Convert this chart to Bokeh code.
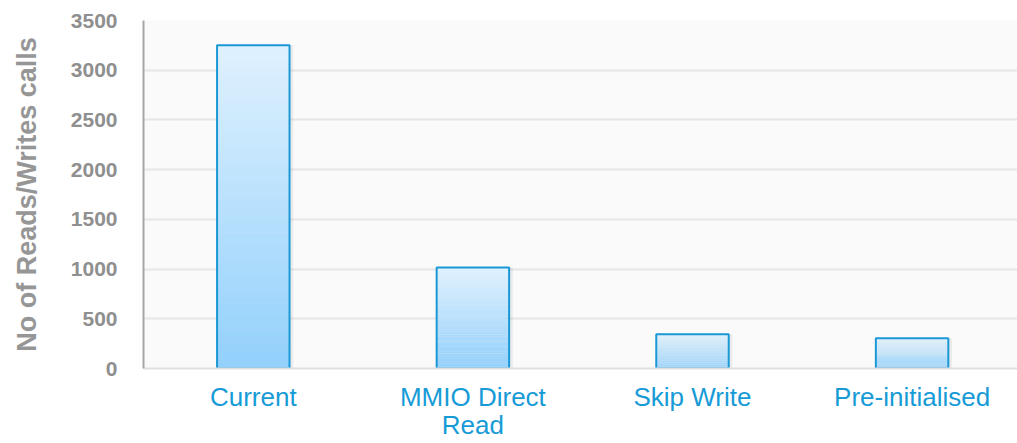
from bokeh.plotting import figure
from bokeh.models import Range1d, FixedTicker
from bokeh.embed import file_html
from bokeh.resources import INLINE

categories = ["Current", "MMIO Direct\nRead", "Skip Write", "Pre-initialised"]
values = [3250, 1015, 345, 305]
y_ticks = [0, 500, 1000, 1500, 2000, 2500, 3000, 3500]
y_title = "No of Reads/Writes calls"

FONT = "Liberation Sans"
xs = [i + 0.5 for i in range(len(categories))]
BAR_W = 0.33

p = figure(width=1017, height=443, x_range=Range1d(0, 3.98), y_range=Range1d(0, 3500),
           output_backend="svg", toolbar_location=None,
           min_border_left=143, min_border_right=0, min_border_top=20, min_border_bottom=75)
p.outline_line_color = None
p.background_fill_color = "#fafafa"
p.border_fill_color = "white"

# shadow
p.vbar(x=[x + 0.012 for x in xs], top=values, width=BAR_W + 0.01, bottom=0,
       fill_color="black", fill_alpha=0.06, line_color=None)

# gradient fill built as slices of each bar
N = 60
top_c = (0xdf, 0xf1, 0xfe)
bot_c = (0x92, 0xd0, 0xfb)
sx, sb, st, sc = [], [], [], []
for x, v in zip(xs, values):
    for k in range(N):
        t = (k + 0.5) / N
        c = tuple(int(round(bot_c[j] + (top_c[j] - bot_c[j]) * t)) for j in range(3))
        sx.append(x)
        sb.append(v * k / N)
        st.append(v * (k + 1) / N + v * 0.002)
        sc.append("#%02x%02x%02x" % c)
p.vbar(x=sx, bottom=sb, top=st, width=BAR_W, fill_color=sc, line_color=None)
p.vbar(x=xs, top=values, bottom=0, width=BAR_W, fill_color=None,
       line_color="#1a98d5", line_width=2)

p.ygrid.grid_line_color = "#e6e6e6"
p.ygrid.grid_line_width = 2
p.xgrid.grid_line_color = None

ya = p.yaxis[0]
ya.ticker = FixedTicker(ticks=y_ticks)
ya.axis_line_color = "#a6a6a6"
ya.axis_line_width = 2
ya.major_tick_line_color = None
ya.minor_tick_line_color = None
ya.major_label_standoff = 20
ya.major_label_text_font = FONT
ya.major_label_text_font_style = "bold"
ya.major_label_text_font_size = "21px"
ya.major_label_text_color = "#8f8f8f"
ya.axis_label = y_title
ya.axis_label_text_font = FONT
ya.axis_label_text_font_style = "bold"
ya.axis_label_text_font_size = "27px"
ya.axis_label_text_color = "#969696"
ya.axis_label_standoff = 26

xa = p.xaxis[0]
xa.ticker = FixedTicker(ticks=xs)
xa.major_label_overrides = {x: c for x, c in zip(xs, categories)}
xa.axis_line_color = "#e0e0e0"
xa.axis_line_width = 2
xa.major_tick_line_color = None
xa.minor_tick_line_color = None
xa.major_label_standoff = 7
xa.major_label_text_font = FONT
xa.major_label_text_font_size = "26px"
xa.major_label_text_line_height = 0.95
xa.major_label_text_color = "#179bd7"

open("out.html", "w").write(file_html(p, INLINE))
